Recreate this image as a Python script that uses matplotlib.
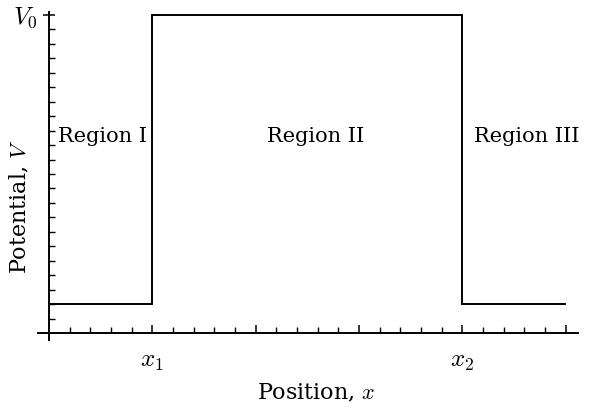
import matplotlib
matplotlib.use("Agg")
import matplotlib.pyplot as plt
import numpy as np

# Data
x_edges = [0, 5, 20, 25]          # x positions of the potential steps
levels = [2, 22, 2]               # potential in each region
region_labels = ["Region I", "Region II", "Region III"]
region_label_x = [2.6, 12.9, 23.1]
region_label_y = 13.6
x_major = [5, 10, 15, 20, 25]
x_major_labels = [r"$x_1$", "", "", r"$x_2$", ""]
y_major = [22]
y_major_labels = [r"$V_0$"]

plt.rcParams['mathtext.fontset'] = 'cm'
plt.rcParams['font.family'] = ['DejaVu Serif']

fig = plt.figure(figsize=(5.92, 4.11), dpi=100)
ax = fig.add_axes([38/592, 1-340/411, (578-38)/592, (340-12)/411])

ax.stairs(levels, x_edges, baseline=None, color='black', lw=1.4)

ax.set_xlim(-0.53, 25.6)
ax.set_ylim(-0.48, 22.2)

for s in ['top', 'right']:
    ax.spines[s].set_visible(False)
ax.spines['left'].set_position(('data', 0))
ax.spines['bottom'].set_position(('data', 0))
ax.spines['left'].set_linewidth(1.4)
ax.spines['bottom'].set_linewidth(1.4)

# x ticks
ax.set_xticks(x_major)
ax.set_xticklabels(x_major_labels, fontsize=18)
ax.set_xticks(np.arange(1, 26), minor=True)
ax.tick_params(axis='x', which='major', direction='in', length=6, width=1.1, pad=12)
ax.tick_params(axis='x', which='minor', direction='in', length=4, width=1.0)

# y ticks
ax.set_yticks(y_major)
ax.set_yticklabels(y_major_labels, fontsize=18)
ax.set_yticks(np.arange(1, 23), minor=True)
ax.tick_params(axis='y', which='major', direction='inout', length=8, width=1.1, pad=4)
ax.tick_params(axis='y', which='minor', direction='in', length=4, width=1.0)

for lx, lab in zip(region_label_x, region_labels):
    ax.text(lx, region_label_y, lab, fontsize=15, ha='center', va='center')

fig.text(316/592, 1-393/411, r"Position, $x$", fontsize=16, ha='center', va='center')
fig.text(20/592, 1-207/411, r"Potential, $V$", fontsize=16, ha='center', va='center',
         rotation=90)

fig.savefig("out.png", dpi=100)
